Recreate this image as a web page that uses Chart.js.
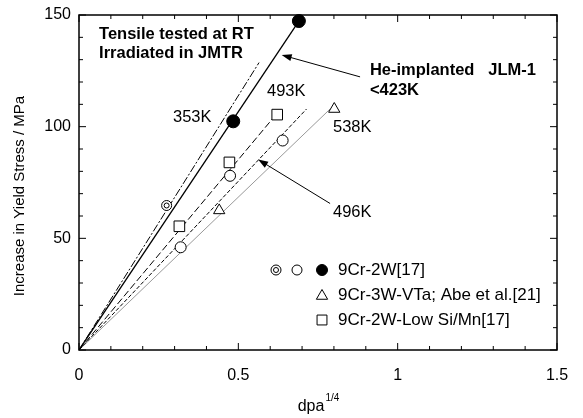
<!DOCTYPE html>
<html>
<head>
<meta charset="utf-8">
<script src="https://cdn.jsdelivr.net/npm/chart.js@4.4.0/dist/chart.umd.min.js"></script>
<style>
  html, body { margin: 0; padding: 0; background: #fff; }
</style>
</head>
<body>
<canvas id="chart" width="583" height="418"></canvas>
<script>
// Tick labels
const xTickValues = [0, 0.5, 1, 1.5];
const yTickValues = [0, 50, 100, 150];

// Measured points (dpa^1/4, MPa)
const filledCircles = [[0.484, 102.4], [0.69, 147.3]];        // 9Cr-2W 353K
const doubleCircles = [[0.275, 64.7]];                         // 9Cr-2W He-implanted
const openCircles = [[0.319, 46], [0.474, 78], [0.639, 93.8]]; // 9Cr-2W 496K
const squares = [[0.315, 55.4], [0.472, 84], [0.622, 105.4]];  // Low Si/Mn 493K
const triangles = [[0.44, 62.5], [0.801, 107.9]];              // 9Cr-3W-VTa 538K

// Fit lines through the origin (start, end)
const line353 = [[0, 0], [0.69, 147.3]];
const lineHe = [[0, 0], [0.565, 128.7]];
const line493 = [[0, 0], [0.61, 104]];
const line496 = [[0, 0], [0.714, 107.9]];
const line538 = [[0, 0], [0.788, 107.9]];

const legendRows = [
  '9Cr-2W[17]',
  '9Cr-3W-VTa; Abe et al.[21]',
  '9Cr-2W-Low Si/Mn[17]'
];

const FONT = "'Liberation Sans', Arial, sans-serif";

function pts(arr) {
  return arr.map(p => ({ x: p[0], y: p[1] }));
}

function markerSet(arr, style, radius, fill) {
  return {
    data: pts(arr),
    pointStyle: style,
    pointRadius: radius,
    pointHoverRadius: radius,
    pointBackgroundColor: fill,
    pointBorderColor: '#000',
    pointBorderWidth: 1,
    showLine: false,
    clip: false
  };
}

function lineSet(arr, color, width, dash) {
  return {
    data: pts(arr),
    showLine: true,
    borderColor: color,
    borderWidth: width,
    borderDash: dash,
    pointRadius: 0,
    fill: false
  };
}

function arrow(ctx, x1, y1, x2, y2) {
  const ang = Math.atan2(y2 - y1, x2 - x1);
  const len = 10, hw = 3.5;
  ctx.beginPath();
  ctx.moveTo(x1, y1);
  ctx.lineTo(x2 - Math.cos(ang) * len * 0.8, y2 - Math.sin(ang) * len * 0.8);
  ctx.stroke();
  ctx.beginPath();
  ctx.moveTo(x2, y2);
  ctx.lineTo(x2 - Math.cos(ang) * len - Math.sin(ang) * hw, y2 - Math.sin(ang) * len + Math.cos(ang) * hw);
  ctx.lineTo(x2 - Math.cos(ang) * len + Math.sin(ang) * hw, y2 - Math.sin(ang) * len - Math.cos(ang) * hw);
  ctx.closePath();
  ctx.fill();
}

const overlay = {
  id: 'overlay',
  afterDraw(chart) {
    const { ctx, chartArea: a, scales: { x, y } } = chart;
    const X = v => x.getPixelForValue(v);
    const Y = v => y.getPixelForValue(v);
    ctx.save();
    ctx.strokeStyle = '#000';
    ctx.fillStyle = '#000';

    // frame
    ctx.lineWidth = 1.5;
    ctx.strokeRect(a.left, a.top, a.right - a.left, a.bottom - a.top);

    // inward ticks on all sides
    ctx.lineWidth = 1;
    ctx.beginPath();
    for (let i = 0; i <= 15; i++) {
      const px = X(i / 10);
      const len = i % 5 === 0 ? 7 : 4;
      ctx.moveTo(px, a.bottom); ctx.lineTo(px, a.bottom - len);
      ctx.moveTo(px, a.top); ctx.lineTo(px, a.top + len);
    }
    for (let i = 0; i <= 15; i++) {
      const py = Y(i * 10);
      const len = i % 5 === 0 ? 7 : 4;
      ctx.moveTo(a.left, py); ctx.lineTo(a.left + len, py);
      ctx.moveTo(a.right, py); ctx.lineTo(a.right - len, py);
    }
    ctx.stroke();

    // axis titles
    ctx.textBaseline = 'middle';
    ctx.textAlign = 'center';
    ctx.font = '15px ' + FONT;
    ctx.save();
    ctx.translate(20, 196);
    ctx.rotate(-Math.PI / 2);
    ctx.fillText('Increase in Yield Stress / MPa', 0, 0);
    ctx.restore();
    const cx = (a.left + a.right) / 2;
    ctx.textAlign = 'left';
    ctx.font = '16px ' + FONT;
    const w1 = ctx.measureText('dpa').width;
    ctx.font = '10px ' + FONT;
    const w2 = ctx.measureText('1/4').width;
    const sx = cx - (w1 + w2) / 2;
    ctx.font = '16px ' + FONT;
    ctx.fillText('dpa', sx, 407);
    ctx.font = '10px ' + FONT;
    ctx.fillText('1/4', sx + w1 + 1, 398);

    // annotations
    ctx.font = 'bold 16.5px ' + FONT;
    ctx.fillText('Tensile tested at RT', X(0.063), Y(141.5));
    ctx.fillText('Irradiated in JMTR', X(0.063), Y(132.6));
    ctx.fillText('He-implanted   JLM-1', X(0.913), Y(125));
    ctx.fillText('<423K', X(0.913), Y(116));
    ctx.font = '16.5px ' + FONT;
    ctx.fillText('353K', X(0.295), Y(104));
    ctx.fillText('493K', X(0.59), Y(115.6));
    ctx.fillText('538K', X(0.797), Y(99.6));
    ctx.fillText('496K', X(0.797), Y(61.6));

    ctx.lineWidth = 1;
    arrow(ctx, X(0.882), Y(122.3), X(0.636), Y(132.1));
    arrow(ctx, X(0.788), Y(65.6), X(0.562), Y(85.3));

    // legend
    const rowsY = [270, 295, 320];
    const mx = 322, tx = 338;
    const draw = (style, r, fill, px, py) => {
      ctx.fillStyle = fill;
      ctx.strokeStyle = '#000';
      ctx.lineWidth = 1;
      Chart.helpers.drawPoint(ctx, { pointStyle: style, radius: r, rotation: 0, borderWidth: 1 }, px, py);
    };
    draw('circle', 5, '#fff', 276, rowsY[0]);
    draw('circle', 2.5, '#fff', 276, rowsY[0]);
    draw('circle', 5, '#fff', 297, rowsY[0]);
    draw('circle', 5.5, '#000', mx, rowsY[0]);
    draw('triangle', 6.5, '#fff', mx, rowsY[1] + 1);
    draw('rect', 7, '#fff', mx, rowsY[2]);
    ctx.fillStyle = '#000';
    ctx.font = '17px ' + FONT;
    ctx.textAlign = 'left';
    legendRows.forEach((t, i) => ctx.fillText(t, tx, rowsY[i]));

    ctx.restore();
  }
};

new Chart(document.getElementById('chart'), {
  type: 'scatter',
  data: {
    datasets: [
      markerSet(filledCircles, 'circle', 6.5, '#000'),
      markerSet(doubleCircles, 'circle', 2.5, '#fff'),
      markerSet(doubleCircles, 'circle', 5, '#fff'),
      markerSet(openCircles, 'circle', 5.5, '#fff'),
      markerSet(squares, 'rect', 7.5, '#fff'),
      markerSet(triangles, 'triangle', 6.5, '#fff'),
      lineSet(line353, '#000', 1.3, []),
      lineSet(lineHe, '#000', 1, [8, 2, 2, 2]),
      lineSet(line493, '#000', 1, [7, 3]),
      lineSet(line496, '#000', 1, [4, 2]),
      lineSet(line538, '#999', 1, [])
    ]
  },
  options: {
    responsive: false,
    animation: false,
    events: [],
    layout: { padding: { left: 0, right: 26, top: 15, bottom: 0 } },
    plugins: { legend: { display: false }, tooltip: { enabled: false } },
    scales: {
      x: {
        type: 'linear',
        min: 0, max: 1.5,
        afterBuildTicks: s => { s.ticks = xTickValues.map(v => ({ value: v })); },
        afterFit: s => { s.height = 68; },
        grid: { display: false },
        border: { display: false },
        ticks: { color: '#000', font: { size: 16, family: FONT }, padding: 8, maxRotation: 0, callback: v => String(v) }
      },
      y: {
        type: 'linear',
        min: 0, max: 150,
        afterBuildTicks: s => { s.ticks = yTickValues.map(v => ({ value: v })); },
        afterFit: s => { s.width = 79; },
        grid: { display: false },
        border: { display: false },
        ticks: { color: '#000', font: { size: 16, family: FONT }, padding: 0, callback: v => String(v) }
      }
    }
  },
  plugins: [overlay]
});
</script>
</body>
</html>
